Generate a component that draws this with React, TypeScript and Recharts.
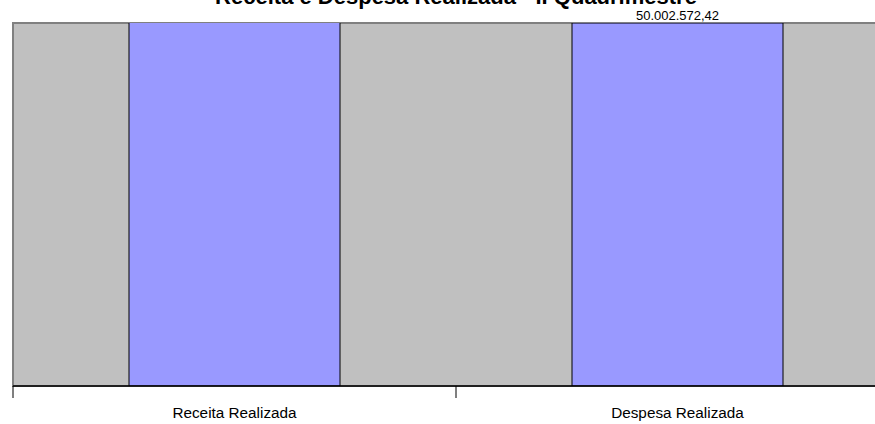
import React from 'react';
import { BarChart, Bar, XAxis, YAxis, ReferenceArea, LabelList } from 'recharts';

const categorias = ['Receita Realizada', 'Despesa Realizada'];
const valores = [52000000, 50002572.42];
const rotulos = ['', '50.002.572,42'];
const divisorias = [0, 1, 2];
const maximoEixo = 50002572.42;

const data = categorias.map((categoria, i) => ({ categoria, valor: valores[i], rotulo: rotulos[i], pos: i + 0.5 }));

const fonte = '"Liberation Sans", Arial, sans-serif';

const SemTexto = () => <g />;

const App: React.FC = () => (
  <div style={{ position: 'absolute', top: 0, left: 0, width: 875, height: 424, overflow: 'hidden', background: '#fff', fontFamily: fonte }}>
    <BarChart width={900} height={424} data={data} margin={{ top: 23, right: 1, left: 13, bottom: 8 }}>
      <XAxis
        xAxisId="a-div"
        type="number"
        dataKey="pos"
        domain={[0, 2]}
        ticks={divisorias}
        tick={SemTexto}
        tickSize={12}
        axisLine={{ stroke: '#000', strokeWidth: 1.5 }}
        tickLine={{ stroke: '#000', strokeWidth: 1 }}
        height={1}
        allowDataOverflow
      />
      <XAxis
        xAxisId="b-cat"
        dataKey="categoria"
        tickLine={false}
        tickSize={10}
        tickMargin={10}
        height={29}
        axisLine={false}
        tick={{ fill: '#000', fontSize: 15.3, fontFamily: fonte }}
        interval={0}
      />
      <YAxis hide domain={[0, maximoEixo]} allowDataOverflow />
      <ReferenceArea xAxisId="b-cat" y1={0} y2={maximoEixo} fill="#C0C0C0" fillOpacity={1} stroke="#808080" strokeWidth={2} />
      <Bar xAxisId="b-cat" dataKey="valor" fill="#9999FF" stroke="#000" strokeWidth={1} barSize={211} isAnimationActive={false}>
        <LabelList dataKey="rotulo" position="top" offset={3} fill="#000" fontSize={13} fontFamily={fonte} />
      </Bar>
    </BarChart>
    <svg width={875} height={30} style={{ position: 'absolute', top: 0, left: 0 }}>
      <text x={456} y={4} textAnchor="middle" fontSize={22} fontWeight="bold" fontFamily={fonte} fill="#000">
        Receita e Despesa Realizada - II Quadrimestre
      </text>
    </svg>
  </div>
);

export default App;
